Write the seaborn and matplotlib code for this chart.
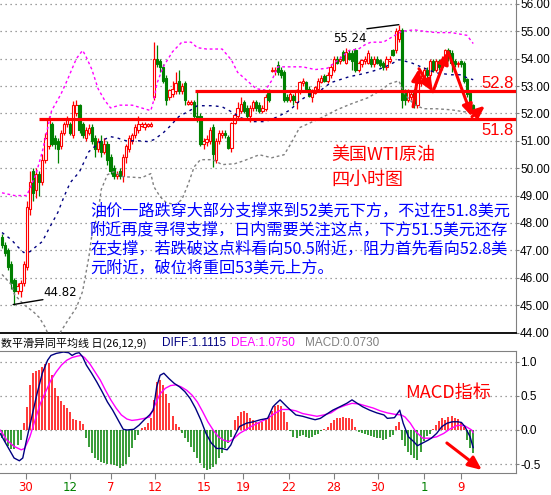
import numpy as np
import matplotlib
matplotlib.use("Agg")
import matplotlib.pyplot as plt
import seaborn as sns

# 4-hour WTI candles, one entry per bar
opens = [47.5, 47.2, 47.0, 46.5, 45.9, 45.5, 45.5, 45.8, 46.4, 48.5,
         49.9, 49.2, 49.8, 49.5, 50.3, 50.8, 51.6, 51.1, 51.0, 50.8,
         51.3, 51.6, 51.6, 51.2, 52.0, 52.3, 51.6, 51.1, 51.3, 51.5,
         51.1, 50.7, 51.0, 50.6, 50.9, 50.4, 50.0, 49.7, 49.9, 49.7,
         50.4, 50.7, 51.0, 51.2, 51.4, 51.55, 51.5, 51.55, 51.55, 52.6,
         54.0, 53.9, 53.7, 53.3, 52.6, 52.7, 52.8, 53.2, 52.8, 53.1,
         52.35, 52.35, 52.4, 51.9, 51.9, 50.9, 50.95, 51.0, 51.5, 50.3,
         51.0, 51.2, 51.3, 51.15, 50.75, 51.65, 51.9, 52.1, 52.4, 52.2,
         51.9, 52.2, 52.4, 52.3, 52.1, 52.15, 52.75, 53.55, 53.55, 53.75,
         53.6, 53.5, 52.6, 52.5, 52.65, 52.4, 52.8, 53.1, 53.15, 52.9,
         52.6, 52.75, 52.9, 53.15, 53.35, 53.2, 53.4, 53.6, 54.0, 53.9,
         54.25, 53.85, 54.2, 54.2, 54.3, 53.6, 53.8, 53.9, 53.85, 54.0,
         53.8, 54.0, 53.95, 53.85, 53.7, 53.9, 54.3, 54.3, 54.7, 55.05,
         52.8, 52.5, 52.6, 52.8, 52.3, 53.1, 53.2, 53.6, 53.4, 53.9,
         53.6, 53.9, 53.7, 53.9, 54.3, 54.2, 53.9, 53.8, 53.9, 53.85,
         53.25, 52.75, 52.3]
highs = [47.6, 47.3, 47.1, 46.6, 46.0, 45.8, 45.9, 46.6, 48.8, 49.9,
         50.0, 50.0, 49.9, 50.5, 51.3, 51.9, 51.7, 51.2, 51.1, 51.4,
         51.7, 51.9, 51.7, 52.45, 52.5, 52.35, 51.7, 51.5, 51.6, 51.6,
         51.2, 51.1, 51.2, 51.1, 51.0, 50.5, 50.1, 49.9, 50.0, 50.5,
         50.9, 51.2, 51.3, 51.6, 51.9, 51.7, 51.7, 51.65, 51.7, 54.6,
         54.5, 54.0, 53.8, 53.4, 52.9, 53.2, 53.5, 53.6, 53.1, 53.2,
         52.5, 52.5, 52.5, 52.8, 52.0, 51.1, 51.2, 51.5, 51.6, 51.1,
         51.4, 51.4, 51.4, 51.2, 51.7, 52.0, 52.4, 52.6, 52.5, 52.3,
         52.3, 52.5, 52.5, 52.4, 52.3, 52.7, 52.9, 53.7, 53.7, 53.9,
         53.7, 53.6, 52.7, 52.8, 52.7, 52.9, 53.2, 53.3, 53.2, 53.0,
         52.9, 53.0, 53.3, 53.4, 53.45, 53.5, 53.8, 54.1, 54.1, 54.1,
         54.3, 54.4, 54.3, 54.3, 54.4, 53.9, 54.0, 54.1, 54.3, 54.1,
         54.1, 54.1, 54.0, 53.9, 54.1, 54.1, 54.35, 55.1, 55.24, 55.1,
         52.9, 52.9, 52.8, 52.9, 53.5, 53.4, 53.7, 53.7, 54.0, 54.0,
         54.0, 54.0, 54.1, 54.35, 54.4, 54.3, 54.0, 53.9, 53.95, 53.9,
         53.3, 52.8, 52.35]
lows = [47.1, 46.8, 46.3, 45.6, 45.0, 45.4, 45.3, 45.7, 46.3, 48.3,
        48.8, 48.9, 49.0, 49.4, 50.2, 50.7, 50.8, 50.7, 50.2, 50.7,
        51.2, 51.5, 51.2, 51.1, 51.9, 51.3, 51.1, 51.0, 51.2, 50.9,
        50.4, 50.6, 50.4, 50.5, 50.1, 49.8, 49.6, 49.6, 49.6, 49.5,
        50.2, 50.6, 50.9, 51.1, 51.3, 51.5, 51.4, 51.5, 51.5, 52.5,
        53.7, 53.5, 53.1, 52.3, 52.5, 52.6, 52.7, 52.7, 52.7, 52.3,
        52.3, 52.3, 51.8, 51.7, 50.8, 50.7, 50.8, 50.9, 50.05, 50.2,
        50.9, 51.1, 51.1, 50.7, 50.6, 51.6, 51.8, 52.0, 52.0, 51.8,
        51.7, 52.1, 52.1, 52.0, 52.0, 52.1, 52.4, 53.5, 53.4, 53.4,
        53.3, 52.4, 52.4, 52.4, 52.3, 52.15, 52.7, 53.0, 52.8, 52.6,
        52.4, 52.7, 52.8, 53.1, 53.15, 53.1, 53.3, 53.5, 53.8, 53.8,
        53.9, 53.8, 53.95, 53.6, 53.5, 53.5, 53.7, 53.8, 53.8, 53.7,
        53.7, 53.8, 53.7, 53.6, 53.6, 53.85, 54.1, 54.2, 54.6, 52.2,
        52.3, 52.4, 52.5, 52.2, 52.2, 53.0, 53.1, 53.2, 53.3, 53.5,
        53.5, 53.6, 53.6, 53.8, 53.9, 53.5, 53.7, 53.7, 53.7, 53.1,
        52.6, 52.1, 51.9]
closes = [47.2, 46.9, 46.4, 45.8, 45.5, 45.7, 45.8, 46.5, 48.6, 49.5,
          49.1, 49.8, 49.5, 50.3, 51.1, 51.8, 50.9, 50.9, 50.7, 51.3,
          51.6, 51.8, 51.3, 52.3, 52.3, 51.4, 51.2, 51.4, 51.45, 51.0,
          50.7, 51.0, 50.6, 50.9, 50.3, 49.9, 49.7, 49.8, 49.7, 50.4,
          50.8, 51.1, 51.2, 51.5, 51.6, 51.6, 51.6, 51.6, 51.6, 54.0,
          53.8, 53.7, 53.2, 52.5, 52.85, 52.9, 53.1, 52.8, 53.0, 52.5,
          52.4, 52.4, 51.9, 51.8, 50.9, 51.0, 51.05, 51.4, 50.5, 51.0,
          51.3, 51.3, 51.2, 50.75, 51.65, 51.95, 52.2, 52.35, 52.1, 51.9,
          52.2, 52.4, 52.2, 52.1, 52.2, 52.6, 52.5, 53.6, 53.6, 53.5,
          53.4, 52.5, 52.5, 52.7, 52.5, 52.85, 53.15, 53.2, 52.9, 52.65,
          52.8, 52.95, 53.2, 53.3, 53.2, 53.4, 53.7, 54.0, 53.85, 54.0,
          53.95, 54.25, 54.0, 53.9, 53.6, 53.85, 53.95, 54.0, 54.2, 53.8,
          54.0, 53.85, 53.75, 53.7, 54.0, 54.0, 54.15, 55.0, 55.05, 52.5,
          52.5, 52.8, 52.7, 52.3, 53.4, 53.3, 53.6, 53.4, 53.9, 53.6,
          53.9, 53.7, 54.0, 54.3, 54.1, 53.85, 53.8, 53.85, 53.8, 53.2,
          52.7, 52.25, 52.1]

# band lines (bar index, price)
upper_x = [0, 4, 8, 11, 13, 16, 19, 21, 24, 26, 27, 29, 31, 33, 35, 38, 42, 45, 48, 49,
           50, 52, 55, 58, 61, 63, 66, 71, 74, 76, 79, 82, 85, 87, 89, 93, 97, 101, 105, 109,
           112, 115, 117, 119, 123, 126, 129, 133, 136, 140, 145, 150, 152]
upper_y = [49.1, 49.0, 49.0, 49.8, 50.6, 52.1, 52.7, 53.2, 54.0, 54.3, 54.1, 53.6, 52.9, 52.5, 52.2, 52.3, 52.3, 52.2, 52.1, 52.5,
           53.1, 53.7, 54.25, 54.6, 54.6, 54.4, 54.35, 54.35, 53.95, 53.5, 53.2, 52.9, 52.85, 53.2, 53.7, 53.7, 53.7, 53.6, 53.65, 54.0,
           54.3, 54.35, 54.5, 54.6, 54.6, 54.8, 55.0, 55.05, 55.0, 54.95, 54.95, 54.85, 54.55]
mid_x = [0, 3, 5, 7, 9, 11, 13, 15, 18, 20, 22, 25, 28, 32, 35, 37, 40, 44, 47, 49,
         52, 54, 57, 61, 63, 68, 71, 74, 77, 81, 85, 89, 93, 96, 99, 103, 106, 109, 112, 115,
         119, 122, 125, 128, 132, 136, 140, 145, 148, 150, 152]
mid_y = [47.65, 47.39, 47.14, 46.92, 46.95, 47.14, 47.32, 47.76, 48.38, 48.96, 49.47, 49.87, 50.6, 51.0, 51.15, 51.11, 51.0, 51.0, 50.97, 51.04,
         51.29, 51.51, 51.88, 52.13, 52.28, 52.28, 52.24, 52.06, 51.84, 51.7, 51.7, 51.88, 52.13, 52.46, 52.68, 52.86, 53.12, 53.23, 53.34, 53.41,
         53.52, 53.63, 53.77, 53.96, 53.85, 53.66, 53.48, 53.41, 53.41, 53.3, 53.23]
lower_x = [0, 3, 4, 7, 10, 12, 14, 15, 17, 19, 21, 24, 26, 27, 28, 29, 31, 32, 34, 36,
           39, 45, 48, 49, 51, 53, 56, 58, 60, 62, 64, 68, 71, 75, 78, 83, 87, 91, 93, 96,
           103, 108, 112, 118, 122, 125, 128, 130, 133, 136, 140, 145, 149, 152]
lower_y = [46.12, 45.75, 45.39, 45.02, 44.77, 44.55, 44.18, 43.89, 43.74, 44.04, 44.4, 44.91, 45.5, 46.12, 46.74, 47.57, 48.38, 49.22, 49.76, 49.87,
           49.69, 49.65, 49.8, 49.32, 48.96, 48.74, 48.67, 48.85, 49.4, 50.05, 50.31, 50.31, 50.13, 50.16, 50.27, 50.49, 50.38, 50.49, 50.86, 51.48,
           51.84, 52.13, 52.32, 52.57, 52.83, 53.08, 53.19, 52.68, 52.32, 52.17, 52.17, 52.13, 52.06, 52.02]

# MACD panel
diff_x = [-0.6, 3.9, 5.6, 6.7, 7.9, 9.6, 11.3, 13.0, 14.7, 15.8, 17.5, 19.8, 21.5, 22.6, 23.8, 24.9, 26.0, 27.2, 28.9, 30.6,
          32.3, 34.0, 35.7, 37.4, 39.1, 40.3, 42.5, 44.2, 45.9, 47.6, 48.8, 49.9, 51.0, 52.2, 53.9, 55.6, 57.3, 59.0, 60.7, 62.4,
          64.1, 65.8, 67.5, 69.2, 70.9, 72.6, 73.8, 74.9, 76.6, 78.9, 81.1, 83.4, 85.7, 87.4, 88.5, 89.7, 90.8, 91.9, 93.1, 94.8,
          97.0, 99.3, 101.0, 102.7, 105.0, 106.7, 109.0, 111.2, 112.9, 114.6, 116.3, 118.6, 120.9, 123.2, 124.3, 126.6, 128.3, 129.4, 131.1, 132.8,
          134.0, 135.7, 137.4, 138.5, 140.2, 141.9, 143.6, 145.3, 147.0, 148.2, 149.3, 151.0, 152.0]
diff_y = [-0.05, -0.41, -0.45, -0.41, -0.15, 0.19, 0.53, 0.83, 1.02, 1.09, 1.12, 1.14, 1.13, 1.09, 1.12, 1.13, 1.07, 0.95, 0.83, 0.70,
          0.56, 0.41, 0.29, 0.15, 0.01, 0.0, 0.01, 0.07, 0.15, 0.22, 0.29, 0.63, 0.80, 0.83, 0.75, 0.68, 0.63, 0.56, 0.46, 0.32,
          0.15, -0.05, -0.19, -0.27, -0.27, -0.29, -0.22, -0.10, 0.05, 0.10, 0.12, 0.15, 0.17, 0.34, 0.39, 0.44, 0.39, 0.34, 0.29, 0.22,
          0.20, 0.17, 0.15, 0.17, 0.24, 0.29, 0.34, 0.39, 0.44, 0.39, 0.34, 0.29, 0.25, 0.22, 0.17, 0.18, 0.29, 0.10, -0.10, -0.17,
          -0.23, -0.19, -0.15, -0.12, -0.05, 0.05, 0.10, 0.12, 0.12, 0.11, 0.05, -0.10, -0.26]
dea_x = [-0.6, 1.6, 3.9, 6.2, 7.3, 9.0, 10.7, 12.4, 14.1, 15.8, 17.5, 19.2, 20.9, 22.6, 24.3, 25.5, 26.6, 28.3, 30.0, 31.7,
         33.4, 35.1, 36.8, 38.5, 40.3, 41.9, 43.7, 45.9, 47.6, 49.3, 51.0, 52.7, 54.4, 56.2, 57.8, 59.6, 61.3, 63.0, 64.7, 66.4,
         68.1, 69.8, 71.5, 73.2, 74.9, 76.6, 78.9, 81.1, 83.4, 85.7, 87.9, 90.2, 92.5, 94.8, 97.0, 99.3, 101.6, 103.8, 106.1, 108.4,
         110.7, 112.9, 115.2, 117.5, 119.8, 122.0, 124.3, 126.6, 128.8, 130.0, 131.7, 133.4, 135.7, 137.9, 140.2, 142.5, 144.7, 147.0, 149.3, 151.5,
         152.0]
dea_y = [0.0, -0.15, -0.24, -0.29, -0.27, -0.10, 0.15, 0.39, 0.56, 0.73, 0.85, 0.95, 1.02, 1.06, 1.08, 1.09, 1.06, 0.97, 0.85, 0.73,
         0.58, 0.44, 0.32, 0.22, 0.16, 0.14, 0.15, 0.17, 0.19, 0.36, 0.53, 0.61, 0.65, 0.66, 0.63, 0.58, 0.51, 0.41, 0.27, 0.12,
         0.0, -0.10, -0.15, -0.17, -0.12, -0.05, 0.01, 0.07, 0.12, 0.17, 0.24, 0.30, 0.30, 0.28, 0.24, 0.22, 0.20, 0.22, 0.25, 0.32,
         0.36, 0.39, 0.38, 0.35, 0.32, 0.28, 0.25, 0.23, 0.22, 0.19, 0.10, -0.02, -0.12, -0.12, -0.10, -0.05, 0.02, 0.07, 0.06, 0.0,
         -0.04]
macd_hist = [-0.12, -0.17, -0.23, -0.28, -0.28, -0.22, -0.14, 0.10, 0.34, 0.66,
             0.83, 0.86, 0.88, 0.92, 0.96, 0.98, 0.80, 0.61, 0.50, 0.43,
             0.37, 0.32, 0.27, 0.16, 0.15, 0.13, 0.09, -0.12, -0.25, -0.34,
             -0.41, -0.44, -0.47, -0.49, -0.50, -0.50, -0.51, -0.53, -0.56, -0.53,
             -0.50, -0.39, -0.27, -0.15, -0.07, 0.03, 0.05, 0.10, 0.18, 0.44,
             0.70, 0.73, 0.66, 0.52, 0.39, 0.20, 0.09, 0.04, -0.04, -0.11,
             -0.17, -0.25, -0.32, -0.41, -0.48, -0.55, -0.58, -0.57, -0.54, -0.50,
             -0.41, -0.34, -0.27, -0.19, -0.10, 0.15, 0.21, 0.26, 0.28, 0.25,
             0.18, 0.15, 0.12, 0.11, 0.12, 0.15, 0.20, 0.28, 0.35, 0.36,
             0.35, 0.27, 0.12, -0.02, -0.10, -0.11, -0.09, -0.07, -0.10, -0.11,
             -0.10, -0.08, -0.06, -0.02, 0.02, 0.05, 0.10, 0.14, 0.17, 0.18,
             0.19, 0.18, 0.17, 0.16, 0.04, -0.03, -0.05, -0.06, -0.08, -0.09,
             -0.10, -0.11, -0.12, -0.15, -0.13, -0.10, -0.08, 0.06, 0.11, -0.15,
             -0.23, -0.32, -0.37, -0.41, -0.44, -0.32, -0.16, -0.09, -0.06, 0.02,
             0.08, 0.13, 0.17, 0.15, 0.19, 0.21, 0.18, 0.16, 0.10, 0.04,
             -0.15, -0.27, -0.34]

date_pos = [7.7, 21.9, 35.2, 49.4, 65.2, 77.8, 92.6, 107.1, 121.3, 136.1, 148.1]
date_labels = ["30", "12", "7", "12", "15", "19", "22", "28", "30", "1", "9"]
date_green = [False, True, False, False, False, False, False, False, False, True, False]

support = 51.8
resistance = 52.8
# hand-drawn zigzag forecast arrow (bar index, price)
zig_x = [132.6, 134.5, 139.0, 143.9, 151.6, 155.8]
zig_y = [52.24, 53.63, 52.79, 54.25, 51.88, 52.28]

notes = ["油价一路跌穿大部分支撑来到52美元下方，不过在51.8美元",
         "附近再度寻得支撑，日内需要关注这点，下方51.5美元还存",
         "在支撑，若跌破这点料看向50.5附近，阻力首先看向52.8美",
         "元附近，破位将重回53美元上方。"]

RED = "#ff0000"
GREEN = "#008000"
GRID = "#808080"

sns.set_style("white")
plt.rcParams["font.family"] = ["DejaVu Sans", "Noto Sans CJK SC"]
CJK = ["Noto Sans CJK SC", "DejaVu Sans"]
ARIAL = ["Liberation Sans", "DejaVu Sans"]

W, H = 551, 495
fig = plt.figure(figsize=(W / 100, H / 100), dpi=100)


def fx(px):
    return px / W


def fy(py):
    return 1 - py / H


ax = fig.add_axes([0, fy(332.5), fx(516), fy(0) - fy(332.5)])
ax2 = fig.add_axes([0, fy(473), fx(516), fy(351) - fy(473)])
xlim = (-0.645, 165.8)

# ---- price panel ----
idx = np.arange(len(closes))
o, c = np.array(opens), np.array(closes)
hi, lo = np.array(highs), np.array(lows)
up = c >= o
for mask, col, face in [(up, RED, "white"), (~up, GREEN, GREEN)]:
    ax.vlines(idx[mask], lo[mask], hi[mask], color=col, lw=0.9, zorder=2)
    ax.bar(idx[mask], np.maximum(np.abs(c - o)[mask], 0.03), bottom=np.minimum(o, c)[mask],
           width=0.72, facecolor=face, edgecolor=col, linewidth=0.8, zorder=3)

sns.lineplot(x=upper_x, y=upper_y, ax=ax, color="#ff00ff", lw=1.0, linestyle=(0, (2, 2)),
             estimator=None, sort=False, legend=False, zorder=4)
sns.lineplot(x=mid_x, y=mid_y, ax=ax, color="#000080", lw=1.0, linestyle=(0, (2, 3)),
             estimator=None, sort=False, legend=False, zorder=4)
sns.lineplot(x=lower_x, y=lower_y, ax=ax, color="#808080", lw=1.0, linestyle=(0, (2, 2)),
             estimator=None, sort=False, legend=False, zorder=4)

ax.hlines(resistance, 62.3, xlim[1], color=RED, lw=2.3, zorder=5)
ax.hlines(support, 11.9, xlim[1], color=RED, lw=2.3, zorder=5)

for i in range(len(zig_x) - 1):
    ax.annotate("", xy=(zig_x[i + 1], zig_y[i + 1]), xytext=(zig_x[i], zig_y[i]),
                arrowprops=dict(arrowstyle="-|>,head_length=0.7,head_width=0.3", color=RED,
                                lw=2.2, shrinkA=0, shrinkB=0), zorder=6)

# high / low markers
ax.plot([117.7, 128], [55.09, 55.24], color="black", lw=1.0, zorder=6)
ax.plot([3.6, 13.2], [45.02, 45.2], color="black", lw=1.0, zorder=6)

ax.set_xlim(*xlim)
ax.set_ylim(44.0, 56.14)
ax.set_yticks(np.arange(44, 57))
ax.set_yticklabels([f"{v:.2f}" for v in np.arange(44, 57)])
ax.yaxis.tick_right()
ax.set_xticks([])
ax.yaxis.grid(True, linestyle=(0, (1, 3)), color=GRID, lw=0.9)
ax.xaxis.grid(False)
ax.tick_params(axis="y", length=2, width=0.8, color=GRID, pad=1, labelsize=8.5, labelcolor="black")
for lab in ax.get_yticklabels():
    lab.set_family(ARIAL)
ax.spines["left"].set_visible(False)
ax.spines["top"].set_visible(False)
ax.spines["right"].set_color(GRID)
ax.spines["bottom"].set_color("black")
ax.spines["bottom"].set_linewidth(1.3)
ax.set_xlabel("")
ax.set_ylabel("")

# ---- MACD panel ----
hist = np.array(macd_hist)
hx = np.arange(len(hist))
ax2.vlines(hx[hist >= 0], 0, hist[hist >= 0], color=RED, lw=1.1)
ax2.vlines(hx[hist < 0], 0, hist[hist < 0], color=GREEN, lw=1.1)
sns.lineplot(x=dea_x, y=dea_y, ax=ax2, color="#ff00ff", lw=1.0, estimator=None, sort=False, legend=False)
sns.lineplot(x=diff_x, y=diff_y, ax=ax2, color="#000080", lw=1.0, estimator=None, sort=False, legend=False)
ax2.annotate("", xy=(154.8, -0.585), xytext=(143.5, -0.19),
             arrowprops=dict(arrowstyle="-|>,head_length=0.8,head_width=0.35", color=RED,
                             lw=2.2, shrinkA=0, shrinkB=0))

ax2.set_xlim(*xlim)
ax2.set_ylim(-0.629, 1.155)
ax2.set_yticks([-0.5, 0.0, 0.5, 1.0])
ax2.set_yticklabels(["-0.5", "0.0", "0.5", "1.0"])
ax2.yaxis.tick_right()
ax2.yaxis.grid(True, linestyle=(0, (1, 3)), color=GRID, lw=0.9)
ax2.xaxis.grid(False)
ax2.tick_params(axis="y", length=2, width=0.8, color=GRID, pad=1, labelsize=8.5, labelcolor="black")
for lab in ax2.get_yticklabels():
    lab.set_family(ARIAL)
ax2.set_xticks(date_pos)
ax2.set_xticklabels(date_labels)
ax2.tick_params(axis="x", length=4, width=0.8, color=GRID, pad=2, labelsize=8.5, bottom=True)
for lab, g in zip(ax2.get_xticklabels(), date_green):
    lab.set_color(GREEN if g else RED)
ax2.spines["left"].set_visible(False)
for s in ["top", "right", "bottom"]:
    ax2.spines[s].set_color(GRID)
ax2.set_xlabel("")
ax2.set_ylabel("")

# ---- text ----
fig.text(fx(514), fy(83), "52.8", color=RED, fontsize=12, family=ARIAL, ha="right", va="center")
fig.text(fx(514), fy(131), "51.8", color=RED, fontsize=12, family=ARIAL, ha="right", va="center")
fig.text(fx(331), fy(155), "美国WTI原油", color=RED, fontsize=13, family=CJK, ha="left", va="center")
fig.text(fx(331), fy(180), "四小时图", color=RED, fontsize=13, family=CJK, ha="left", va="center")
for k, line in enumerate(notes):
    fig.text(fx(90), fy(211 + 19 * k), line, color="#0000ff", fontsize=11.6, family=CJK,
             ha="left", va="center")
fig.text(fx(367), fy(38), "55.24", color="black", fontsize=8.5, ha="right", va="center")
fig.text(fx(43), fy(292), "44.82", color="black", fontsize=8.5, ha="left", va="center")
fig.text(fx(405), fy(393), "MACD指标", color=RED, fontsize=13, family=CJK, ha="left", va="center")

fig.text(fx(1), fy(343), "数平滑异同平均线 日(26,12,9)", color="black", fontsize=7.9, family=CJK,
         ha="left", va="center")
fig.text(fx(162), fy(343), "DIFF:1.1115", color="#000080", fontsize=8.5, family=ARIAL, ha="left", va="center")
fig.text(fx(231), fy(343), "DEA:1.0750", color="#ff00ff", fontsize=8.5, family=ARIAL, ha="left", va="center")
fig.text(fx(305), fy(343), "MACD:0.0730", color="#808080", fontsize=8.5, family=ARIAL, ha="left", va="center")

fig.savefig("out.png", dpi=100)
